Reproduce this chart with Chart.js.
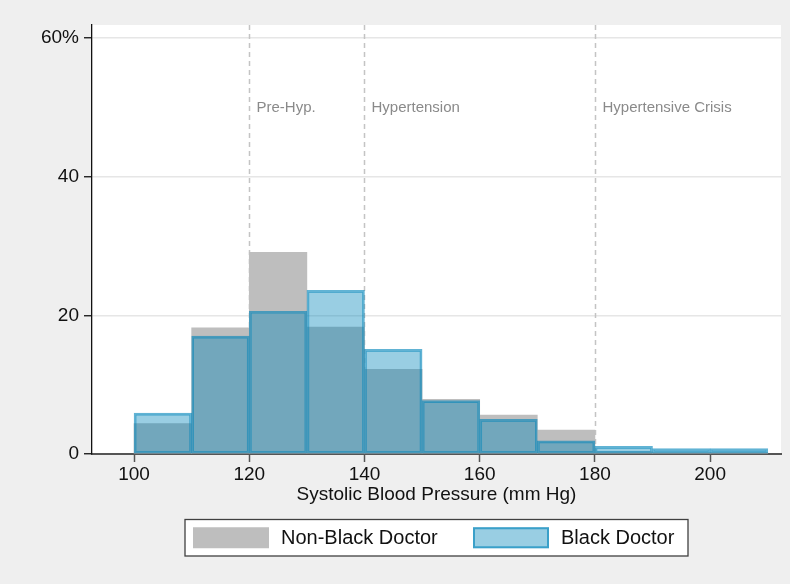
<!DOCTYPE html>
<html>
<head>
<meta charset="utf-8">
<script src="https://cdn.jsdelivr.net/npm/chart.js@4.4.1/dist/chart.umd.min.js"></script>
<style>
  html, body { margin: 0; padding: 0; background: #efefef; }
  canvas { display: block; }
</style>
</head>
<body>
<canvas id="chart" width="790" height="584"></canvas>
<script>
// Histogram bins (lower edge, mm Hg) and bin width
const binStart = [100, 110, 120, 130, 140, 150, 160, 170, 180, 190, 200];
const binWidth = 10;

// Percent of readings in each bin
const nonBlackDoctor = [4.4, 18.2, 29.1, 18.3, 12.2, 7.9, 5.6, 3.45, 0.3, 0.2, 0.2];
const blackDoctor    = [5.9, 17.0, 20.6, 23.6, 15.1, 7.7, 5.0, 1.9, 1.1, 0.8, 0.8];

const seriesNames = ['Non-Black Doctor', 'Black Doctor'];

// Axis ticks
const xTicks = [100, 120, 140, 160, 180, 200];
const yTicks = [0, 20, 40, 60];

// Blood-pressure category cut-offs and their captions
const cutoffs = [120, 140, 180];
const cutoffLabels = ['Pre-Hyp.', 'Hypertension', 'Hypertensive Crisis'];
const cutoffLabelLevel = 50;

const FONT = '"Liberation Sans", Arial, Helvetica, sans-serif';

const toPoints = vals => vals.map((v, i) => ({ x: binStart[i] + binWidth / 2, y: v }));

// Background: light grey page, white plot region
const backgroundPlugin = {
  id: 'panelBackground',
  beforeDraw(chart) {
    const { ctx, chartArea: a } = chart;
    ctx.save();
    ctx.fillStyle = '#efefef';
    ctx.fillRect(0, 0, chart.width, chart.height);
    ctx.fillStyle = '#ffffff';
    ctx.fillRect(a.left, a.top, a.right - a.left, a.bottom - a.top);
    ctx.restore();
  }
};

// Dashed reference lines with captions, drawn under the bars
const cutoffPlugin = {
  id: 'cutoffLines',
  beforeDatasetsDraw(chart) {
    const { ctx, chartArea: a, scales: { x, y } } = chart;
    ctx.save();
    ctx.strokeStyle = '#c4c4c4';
    ctx.lineWidth = 1.5;
    ctx.setLineDash([5, 4]);
    ctx.font = '15px ' + FONT;
    ctx.fillStyle = '#8a8a8a';
    ctx.textBaseline = 'middle';
    ctx.textAlign = 'left';
    cutoffs.forEach((c, i) => {
      const px = Math.round(x.getPixelForValue(c)) + 0.5;
      ctx.beginPath();
      ctx.moveTo(px, a.top);
      ctx.lineTo(px, a.bottom);
      ctx.stroke();
      ctx.fillText(cutoffLabels[i], px + 7, y.getPixelForValue(cutoffLabelLevel));
    });
    ctx.restore();
  }
};

// Boxed legend below the axis title
const boxLegendPlugin = {
  id: 'boxLegend',
  afterDraw(chart) {
    const { ctx } = chart;
    const box = { x: 185, y: 519.5, w: 503, h: 36.5 };
    ctx.save();
    ctx.fillStyle = '#ffffff';
    ctx.fillRect(box.x, box.y, box.w, box.h);
    ctx.strokeStyle = '#404040';
    ctx.lineWidth = 1.3;
    ctx.strokeRect(box.x, box.y, box.w, box.h);
    const swW = 76, swH = 21;
    const midY = box.y + box.h / 2;
    const items = [
      { sx: 193, tx: 281 },
      { sx: 473, tx: 561 }
    ];
    ctx.font = '20px ' + FONT;
    ctx.textBaseline = 'middle';
    ctx.textAlign = 'left';
    chart.data.datasets.forEach((ds, i) => {
      const it = items[i];
      const top = midY - swH / 2;
      ctx.fillStyle = '#ffffff';
      ctx.fillRect(it.sx, top, swW, swH);
      ctx.fillStyle = ds.backgroundColor;
      ctx.fillRect(it.sx, top, swW, swH);
      if (ds.borderWidth) {
        ctx.strokeStyle = ds.borderColor;
        ctx.lineWidth = 2;
        ctx.strokeRect(it.sx + 1, top + 1, swW - 2, swH - 2);
      }
      ctx.fillStyle = '#111111';
      ctx.fillText(ds.label, it.tx, midY + 1);
    });
    ctx.restore();
  }
};

new Chart(document.getElementById('chart'), {
  type: 'bar',
  data: {
    datasets: [
      {
        label: seriesNames[0],
        data: toPoints(nonBlackDoctor),
        backgroundColor: '#bebebe',
        borderWidth: 0,
        order: 2
      },
      {
        label: seriesNames[1],
        data: toPoints(blackDoctor),
        backgroundColor: 'rgba(0, 133, 185, 0.4)',
        borderColor: 'rgba(0, 133, 185, 0.62)',
        borderWidth: 2,
        borderSkipped: false,
        order: 1
      }
    ]
  },
  options: {
    responsive: false,
    animation: false,
    devicePixelRatio: 1,
    layout: { padding: { left: 0, top: 25, right: 9, bottom: 75 } },
    datasets: {
      bar: { grouped: false, barPercentage: 1, categoryPercentage: 1 }
    },
    plugins: {
      legend: { display: false },
      tooltip: { enabled: false }
    },
    scales: {
      x: {
        type: 'linear',
        offset: false,
        min: 92.7,
        max: 212.3,
        afterBuildTicks: s => { s.ticks = xTicks.map(v => ({ value: v })); },
        afterFit: s => { s.height = 55; },
        ticks: {
          font: { family: FONT, size: 19 },
          color: '#111111',
          padding: 1,
          maxRotation: 0
        },
        grid: {
          offset: false,
          drawOnChartArea: false,
          drawTicks: true,
          tickLength: 8,
          tickColor: '#555555',
          tickWidth: 1.5
        },
        border: { color: '#555555', width: 2 },
        title: {
          display: true,
          text: 'Systolic Blood Pressure (mm Hg)',
          font: { family: FONT, size: 19 },
          color: '#111111',
          padding: { top: 0, bottom: 3 }
        }
      },
      y: {
        type: 'linear',
        min: 0,
        max: 61.9,
        afterBuildTicks: s => { s.ticks = yTicks.map(v => ({ value: v })); },
        afterFit: s => { s.width = 92; },
        ticks: {
          font: { family: FONT, size: 19 },
          color: '#111111',
          padding: 5,
          callback: v => (v === 60 ? '60%' : String(v))
        },
        grid: {
          color: '#e6e6e6',
          lineWidth: 1.5,
          tickLength: 8,
          tickColor: '#111111',
          tickWidth: 1.3
        },
        border: { color: '#111111', width: 1.3 }
      }
    }
  },
  plugins: [backgroundPlugin, cutoffPlugin, boxLegendPlugin]
});
</script>
</body>
</html>
